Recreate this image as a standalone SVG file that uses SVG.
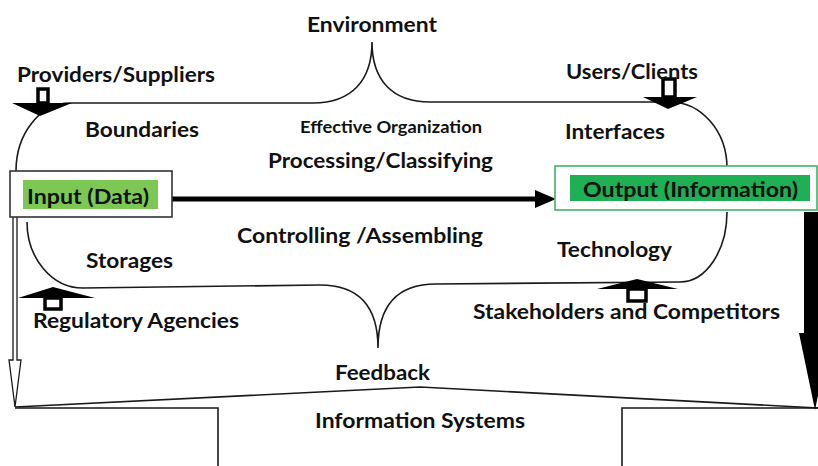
<svg xmlns="http://www.w3.org/2000/svg" width="818" height="466" viewBox="0 0 818 466">
<style>
.t{font-family:Lato,"Open Sans","Liberation Sans",sans-serif;font-weight:bold;font-size:21px;fill:#111}
.s{font-size:17px}
.ln{fill:none;stroke:#1a1a1a;stroke-width:1.6}
.blk{fill:#000}
.hol{fill:#fff;stroke:#000;stroke-width:3.5}
</style>
<rect width="818" height="466" fill="#fff"/>
<g id="connectors">
<path class="ln" d="M16 171 A54 68 0 0 1 70 103 H313 C352 103 372 80 372 42 C372 80 392 102 430 102 H670 A57 66 0 0 1 727 168"/>
<path class="ln" d="M727 212 A47 70 0 0 1 680 282 L436 284 C398 284 378 305 378 348 C378 305 358 285 320 285 L83 288 A56 66 0 0 1 27 222"/>
<path class="ln" d="M15 407 L420 387 L818 408"/>
<path class="ln" d="M15 408 H218 V466 M818 408 H622 V466"/>
<path d="M13 217 V360 H9 L15 407 L21 360 H17 V217" fill="#fff" stroke="#1a1a1a" stroke-width="1.3"/>
<polygon class="blk" points="804,212 826,212 826,333 831,333 815,410 799,333 804,333"/>
<line x1="172" y1="199" x2="538" y2="199" stroke="#000" stroke-width="5"/>
<polygon class="blk" points="535,190 556,199 535,208"/>
</g>
<g id="providers-arrow">
<rect class="hol" x="38" y="89" width="10" height="14"/>
<polygon class="blk" points="12,103 72,103 40,116"/>
</g>
<g id="users-arrow">
<rect class="hol" x="663" y="79" width="12" height="18"/>
<polygon class="blk" points="643,97 697,97 668,109"/>
</g>
<g id="regulatory-arrow">
<rect class="hol" x="45" y="298" width="16" height="11"/>
<polygon class="blk" points="18,298 95,298 53,287"/>
</g>
<g id="stakeholders-arrow">
<rect class="hol" x="628" y="289" width="18" height="12"/>
<polygon class="blk" points="597,289 678,289 637,279"/>
</g>
<g id="input">
<rect x="10" y="171" width="162" height="46" fill="#fff" stroke="#333" stroke-width="1.6"/>
<rect x="23" y="180" width="135" height="29" fill="#7DC855"/>
<text class="t" x="27" y="204" textLength="122" lengthAdjust="spacingAndGlyphs">Input (Data)</text>
</g>
<g id="output">
<rect x="555" y="166" width="262" height="44" fill="#fff" stroke="#3DB36B" stroke-width="1.6"/>
<rect x="570" y="175" width="240" height="26" fill="#1FAF54"/>
<text class="t" x="583" y="197" textLength="215" lengthAdjust="spacingAndGlyphs">Output (Information)</text>
</g>
<g id="labels">
<text class="t" x="307" y="32" textLength="130" lengthAdjust="spacingAndGlyphs">Environment</text>
<text class="t" x="17" y="82" textLength="198" lengthAdjust="spacingAndGlyphs">Providers/Suppliers</text>
<text class="t" x="566" y="79" textLength="132" lengthAdjust="spacingAndGlyphs">Users/Clients</text>
<text class="t s" x="300" y="133" textLength="182" lengthAdjust="spacingAndGlyphs">Effective Organization</text>
<text class="t" x="85" y="137" textLength="114" lengthAdjust="spacingAndGlyphs">Boundaries</text>
<text class="t" x="565" y="139" textLength="100" lengthAdjust="spacingAndGlyphs">Interfaces</text>
<text class="t" x="268" y="168" textLength="225" lengthAdjust="spacingAndGlyphs">Processing/Classifying</text>
<text class="t" x="237" y="243" textLength="246" lengthAdjust="spacingAndGlyphs">Controlling /Assembling</text>
<text class="t" x="86" y="268" textLength="87" lengthAdjust="spacingAndGlyphs">Storages</text>
<text class="t" x="557" y="257" textLength="115" lengthAdjust="spacingAndGlyphs">Technology</text>
<text class="t" x="33" y="328" textLength="206" lengthAdjust="spacingAndGlyphs">Regulatory Agencies</text>
<text class="t" x="473" y="319" textLength="307" lengthAdjust="spacingAndGlyphs">Stakeholders and Competitors</text>
<text class="t" x="335" y="380" textLength="95" lengthAdjust="spacingAndGlyphs">Feedback</text>
<text class="t" x="315" y="428" textLength="210" lengthAdjust="spacingAndGlyphs">Information Systems</text>
</g>
</svg>
